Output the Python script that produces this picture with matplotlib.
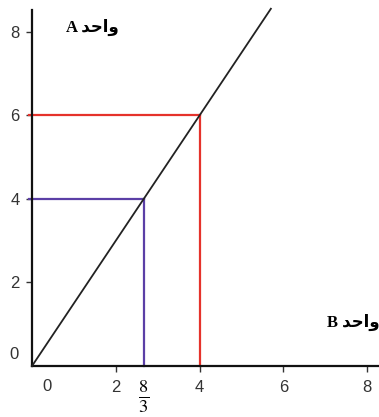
import matplotlib.pyplot as plt

# values
x_ticks = [0, 2, 4, 6, 8]
y_ticks = [0, 2, 4, 6, 8]
line_x = [0, 5.7]
line_y = [0, 8.55]
guide_x = [4, 8 / 3]
guide_y = [6, 4]
guide_colors = ["#e5322b", "#5b3fa6"]

# "واحد" in presentation forms so it shows joined, right to left
unit = "\uFEAA\uFEA3\uFE8D\uFEED"
label_a = "A " + unit
label_b = "B " + unit

plt.rcParams["mathtext.fontset"] = "stix"
plt.rcParams["font.family"] = ["Liberation Sans", "DejaVu Sans"]

fig = plt.figure(figsize=(3.79, 4.17), dpi=100)
ax = fig.add_axes([32 / 379, 51 / 417, 347 / 379, 356 / 417])
ax.set_xlim(0, 8.28)
ax.set_ylim(0, 8.52)

ax.plot(line_x, line_y, color="#222222", lw=1.3, clip_on=False, zorder=3)

for gx, gy, c in zip(guide_x, guide_y, guide_colors):
    ax.plot([-0.08, gx], [gy, gy], color=c, lw=1.6, clip_on=False, zorder=2)
    ax.plot([gx, gx], [0, gy], color=c, lw=1.6, clip_on=False, zorder=2)

for s in ["top", "right"]:
    ax.spines[s].set_visible(False)
for s in ["left", "bottom"]:
    ax.spines[s].set_linewidth(1.6)
    ax.spines[s].set_color("#111111")

# the zeros sit off the origin in the picture, so they are drawn apart
ax.set_xticks(x_ticks[1:])
ax.set_yticks(y_ticks[1:])
ax.tick_params(axis="both", labelsize=12, length=4, width=1, colors="#333333", pad=6)
ax.tick_params(axis="y", pad=5)
ax.text(0.36, -0.3, str(x_ticks[0]), fontsize=12, color="#333333", ha="center", va="top")
ax.text(-0.44, 0.28, str(y_ticks[0]), fontsize=12, color="#333333", ha="center", va="center")

ax.text(8 / 3, -0.3, r"$\frac{8}{3}$", fontsize=19, ha="center", va="top")

ax.text(0.8, 8.1, label_a, fontsize=12, fontweight="bold",
        family=["Liberation Serif", "DejaVu Sans"], ha="left", va="center")
ax.text(7.05, 1.05, label_b, fontsize=12, fontweight="bold",
        family=["Liberation Serif", "DejaVu Sans"], ha="left", va="center",
        clip_on=False)

fig.savefig("out.png", dpi=100)
